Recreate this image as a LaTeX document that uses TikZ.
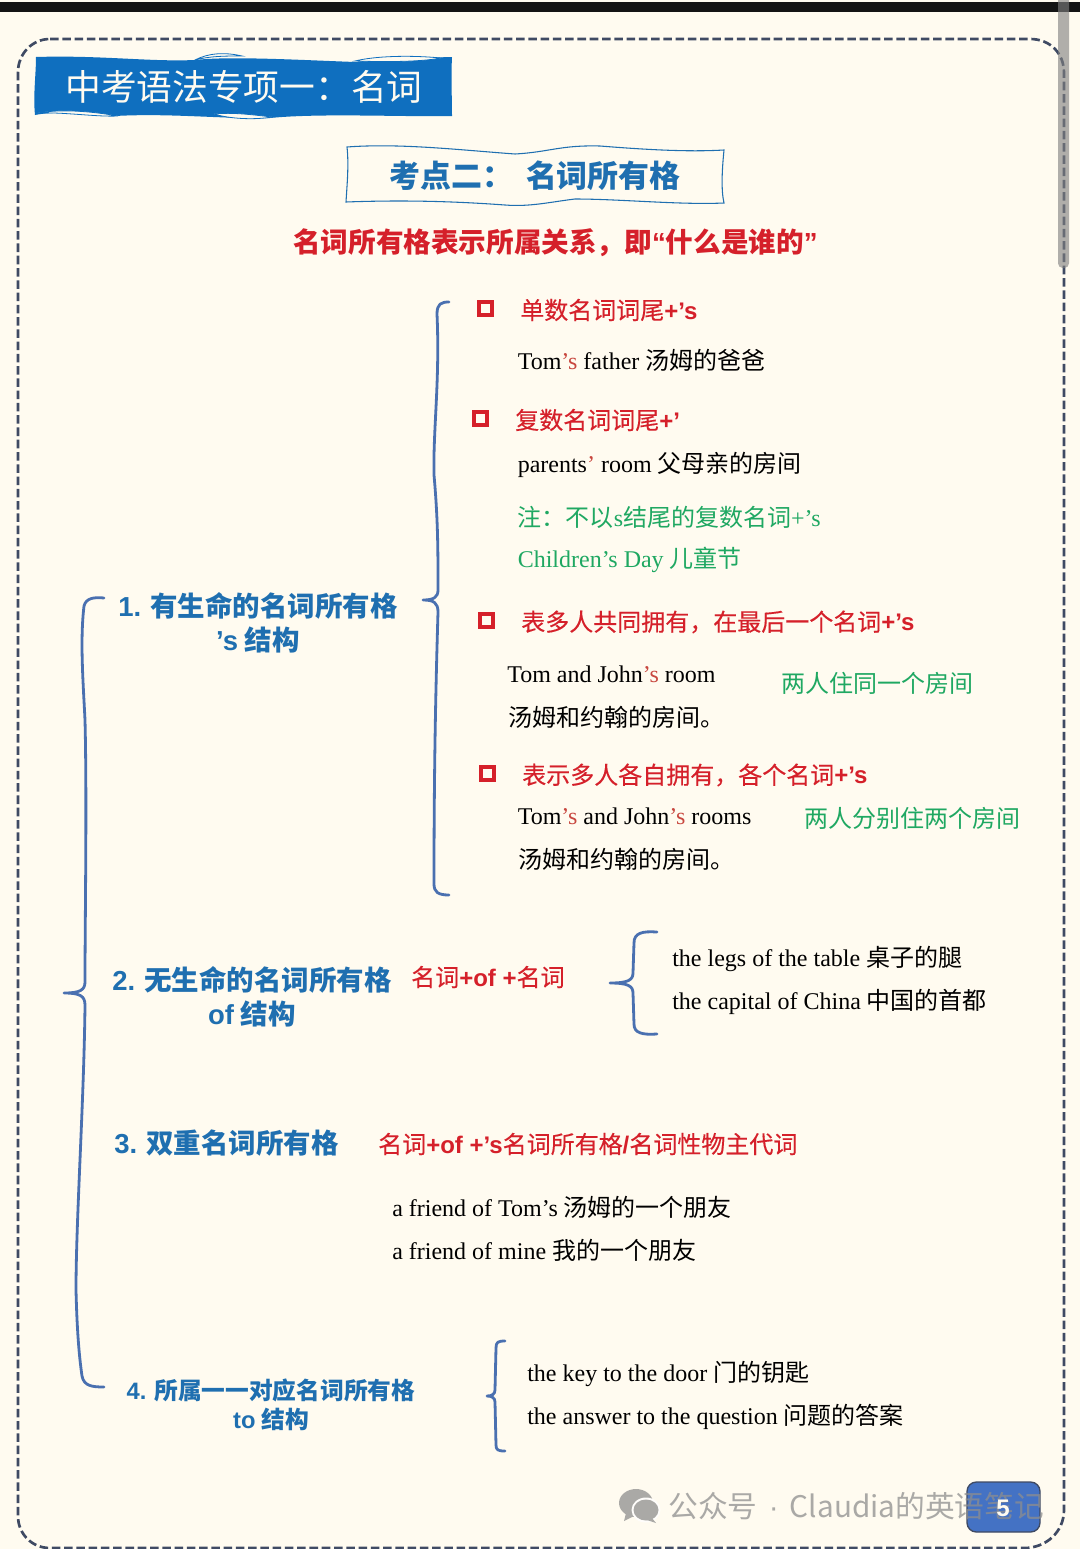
\documentclass[tikz,border=0pt]{standalone}
\usepackage{fontspec}
\setmainfont{Liberation Serif}
\newfontfamily\cjk{Noto Sans CJK SC}
\newfontfamily\cjkm[FakeBold=0.3]{Noto Sans CJK SC}
\newfontfamily\lsans{Liberation Sans}
\newcommand\zh[1]{{\cjk #1}}
\newcommand\zm[1]{{\cjkm #1}}
\newcommand\zb[1]{{\cjk\bfseries #1}}
\newcommand\lb[1]{{\lsans\bfseries #1}}
\definecolor{paper}{HTML}{FFFBF0}
\definecolor{titleblue}{HTML}{0F6FBF}
\definecolor{headblue}{HTML}{1F6FB0}
\definecolor{bracecol}{HTML}{4A70B0}
\definecolor{dashcol}{HTML}{3F4A63}
\definecolor{redtxt}{HTML}{D5202A}
\definecolor{greentxt}{HTML}{1FA862}
\definecolor{possred}{HTML}{C8473F}
\definecolor{wmgray}{HTML}{8E8E8E}
\definecolor{badge}{HTML}{4472C4}
\tikzset{
  x=0.75pt,y=-0.75pt,
  txt/.style={anchor=west,inner sep=0pt,font=\fontsize{18}{20}\selectfont,text=black},
  redt/.style={txt,text=redtxt,font=\fontsize{18}{20}\selectfont},
  grn/.style={txt,text=greentxt},
  headt/.style={inner sep=0pt,align=center,text=headblue,font=\fontsize{20.6}{25.5}\selectfont},
  bracel/.style={draw=bracecol,line width=2.1pt,line cap=round,line join=round},
  tick/.style={draw=redtxt,line width=2.8pt,fill=none},
  lens/.style={fill=paper,draw=titleblue,line width=0.6pt},
}
\begin{document}
\begin{tikzpicture}
\useasboundingbox (0,0) rectangle (1080,1549);
\fill[paper] (0,0) rectangle (1080,1549);
\fill[black!92] (0,2) rectangle (1080,12);
% dashed frame
\draw[dashcol,line width=2pt,dash pattern=on 6.4pt off 2.8pt] (50,39) -- (1030,39) .. controls (1050,39) and (1064,53) .. (1064,73) -- (1064,1510) .. controls (1064,1532) and (1046,1548) .. (1024,1548) -- (50,1548) .. controls (32,1548) and (18,1534) .. (18,1516) -- (18,72) .. controls (18,54) and (32,39) .. (50,39) -- cycle;
% scrollbar
\fill[gray,opacity=0.62,rounded corners=3.5pt] (1058,-6) rectangle (1069,268);
% title banner
\path[fill=titleblue] (36,57) .. controls (100,55) and (150,62) .. (195,60) .. controls (230,56) and (300,60) .. (355,62) .. controls (390,58) and (420,58) .. (452,57) .. controls (451,75) and (452,100) .. (452,116) .. controls (400,117) and (320,113) .. (270,118) .. controls (220,119) and (170,113) .. (115,116) .. controls (90,115) and (60,110) .. (35,115) .. controls (33,95) and (36,75) .. (36,57) -- cycle;
\path[lens] (195,60) .. controls (208,53) and (225,52) .. (242,56) .. controls (225,56) and (210,56) .. (195,60) -- cycle;
\path[lens] (355,61) .. controls (375,56) and (410,55) .. (441,58) .. controls (420,62) and (385,62) .. (355,61) -- cycle;
\path[lens] (38,113) .. controls (60,109) and (90,111) .. (118,116) .. controls (95,117) and (65,112) .. (38,113) -- cycle;
\path[lens] (214,114) .. controls (232,112) and (255,115) .. (272,117) .. controls (255,120) and (230,119) .. (214,114) -- cycle;
\node[anchor=west,inner sep=0pt,text=paper,font=\fontsize{26.8}{30}\selectfont] (title) at (65,87) {\zh{中考语法专项一：名词}};
% subtitle box
\draw[headblue,line width=0.8pt,fill=paper] (347,147) .. controls (400,143) and (460,150) .. (515,154) .. controls (550,152) and (560,145) .. (600,146) .. controls (650,150) and (690,152) .. (724,150) .. controls (722,170) and (721,190) .. (724,203) .. controls (680,205) and (620,199) .. (575,199) .. controls (550,202) and (530,207) .. (505,205) .. controls (450,201) and (400,200) .. (346,202) .. controls (347,185) and (349,165) .. (347,147) -- cycle;
\node[inner sep=0pt,text=headblue,font=\fontsize{23.2}{26}\selectfont] (sub) at (535,176) {\zb{考点二：\hspace{0.42em}名词所有格}};
\node[anchor=west,inner sep=0pt,text=redtxt,font=\fontsize{20.7}{24}\selectfont] (intro) at (293,243) {\zb{名词所有格表示所属关系，即}\lb{“}\zb{什么是谁的}\lb{”}};
% big left brace
\draw[bracel] (104,598) .. controls (94,597) and (86,598) .. (84,606) .. controls (80,640) and (83,680) .. (85,720) .. controls (87,800) and (85,920) .. (85,982) .. controls (85,990) and (80,993) .. (64,993) .. controls (80,993) and (85,996) .. (85,1005) .. controls (84,1100) and (76,1220) .. (76,1290) .. controls (77,1330) and (79,1355) .. (82,1376) .. controls (84,1386) and (92,1387) .. (104,1387);
% brace 1
\draw[bracel] (449,302) .. controls (441,302) and (437,304) .. (437,314) .. controls (440,380) and (433,430) .. (434,475) .. controls (438,520) and (438,550) .. (438,590) .. controls (438,597) and (434,600) .. (423,600) .. controls (434,600) and (438,603) .. (438,612) .. controls (436,680) and (434,760) .. (434,884) .. controls (434,892) and (438,895) .. (449,895);
% brace 2
\draw[bracel] (657,932) .. controls (642,931) and (634,933) .. (634,943) -- (633,973) .. controls (633,980) and (628,983) .. (610,983) .. controls (628,983) and (633,986) .. (633,993) -- (634,1024) .. controls (634,1033) and (642,1035) .. (657,1034);
% brace 4
\draw[bracel] (505,1341) .. controls (498,1341) and (496,1342) .. (496,1348) -- (495,1390) .. controls (495,1394) and (492,1396) .. (487,1396) .. controls (492,1396) and (495,1398) .. (495,1402) -- (496,1445) .. controls (496,1450) and (498,1451) .. (505,1451);
% checkboxes
\draw[tick] (479,302) rectangle (492,315);
\draw[tick] (474,412) rectangle (487,425);
\draw[tick] (480,614) rectangle (493,627);
\draw[tick] (481,767) rectangle (494,780);
% section 1
\node[headt] (h1) at (258,623) {\lb{1.} \zb{有生命的名词所有格}\\\lb{’s} \zb{结构}};
\node[redt] (r1) at (520,310) {\zm{单数名词词尾}\lb{+’s}};
\node[txt] (t1) at (517.5,360) {Tom{\color{possred}’s} father \zh{汤姆的爸爸}};
\node[redt] (r2) at (515,420) {\zm{复数名词词尾}\lb{+’}};
\node[txt] (t2) at (517.5,465) {parents{\color{possred}’} room \zh{父母亲的房间}};
\node[grn] (n1) at (517.5,517) {\zh{注：不以}s\zh{结尾的复数名词}+’s};
\node[grn] (n2) at (517.5,560) {Children’s Day \zh{儿童节}};
\node[redt] (r3) at (521,622) {\zm{表多人共同拥有，在最后一个名词}\lb{+’s}};
\node[txt] (t3) at (507,674) {Tom and John{\color{possred}’s} room};
\node[grn] (g3) at (781,683) {\zh{两人住同一个房间}};
\node[txt] (t3b) at (508,717) {\zh{汤姆和约翰的房间。}};
\node[redt] (r4) at (522,775) {\zm{表示多人各自拥有，各个名词}\lb{+’s}};
\node[txt] (t4) at (517.5,816) {Tom{\color{possred}’s} and John{\color{possred}’s} rooms};
\node[grn] (g4) at (804,818) {\zh{两人分别住两个房间}};
\node[txt] (t4b) at (518,859) {\zh{汤姆和约翰的房间。}};
% section 2
\node[headt] (h2) at (252,997) {\lb{2.} \zb{无生命的名词所有格}\\\lb{of} \zb{结构}};
\node[redt] (r5) at (411,977) {\zm{名词}\lb{+of +}\zm{名词}};
\node[txt] (t5) at (672,959) {the legs of the table \zh{桌子的腿}};
\node[txt] (t6) at (672,1002) {the capital of China \zh{中国的首都}};
% section 3
\node[headt,anchor=west] (h3) at (114,1143) {\lb{3.} \zb{双重名词所有格}};
\node[redt] (r6) at (378,1144) {\zm{名词}\lb{+of +’s}\zm{名词所有格}\lb{/}\zm{名词性物主代词}};
\node[txt] (t7) at (392,1207) {a friend of Tom’s \zh{汤姆的一个朋友}};
\node[txt] (t8) at (392,1250) {a friend of mine \zh{我的一个朋友}};
% section 4
\node[headt,font=\fontsize{17.8}{22}\selectfont] (h4) at (271,1405) {\lb{4.} \zb{所属一一对应名词所有格}\\\lb{to} \zb{结构}};
\node[txt] (t9) at (527,1374) {the key to the door \zh{门的钥匙}};
\node[txt] (t10) at (527,1417) {the answer to the question \zh{问题的答案}};
% page badge
\path[draw=dashcol,line width=1pt,fill=badge,rounded corners=7pt] (967,1482) rectangle (1040,1532);
% watermark
\begin{scope}[opacity=0.75,transparency group]
\fill[wmgray] (636,1503) ellipse[x radius=17,y radius=14];
\fill[wmgray] (626,1513) -- (624,1521) -- (634,1516) -- cycle;
\fill[white] (646,1510) ellipse[x radius=14.5,y radius=12.5];
\fill[wmgray] (646,1510) ellipse[x radius=12.5,y radius=10.5];
\fill[wmgray] (652,1518) -- (656,1523) -- (644,1519) -- cycle;
\end{scope}
\node[anchor=west,inner sep=0pt,text=wmgray,text opacity=0.75,font=\fontsize{22.3}{24}\selectfont] (wm) at (668,1506) {\zh{公众号}\hspace{0.38em}{\lsans ·}\hspace{0.38em}\zh{Claudia的英语笔记}};
\node[inner sep=0pt,text=paper,font=\lsans\bfseries\fontsize{18}{20}\selectfont] (page) at (1003,1508) {5};
\end{tikzpicture}
\end{document}
